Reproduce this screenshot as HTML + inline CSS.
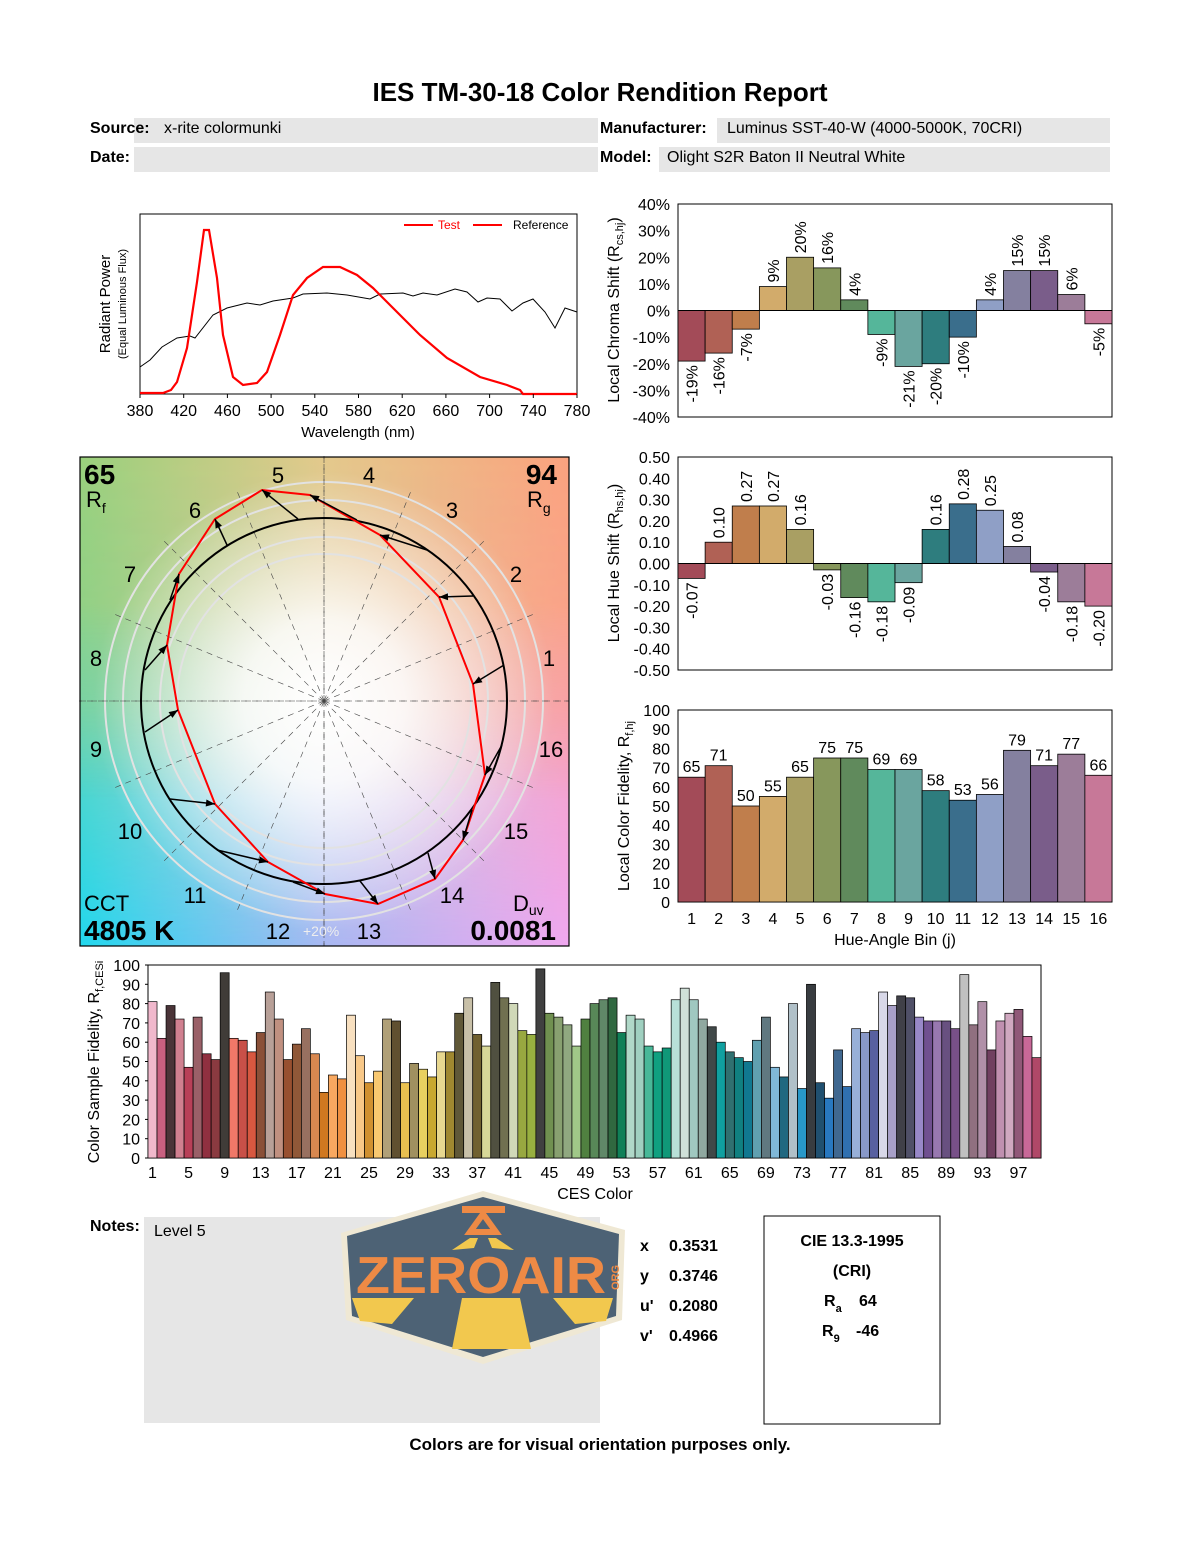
<!DOCTYPE html>
<html><head><meta charset="utf-8"><style>
html,body{margin:0;padding:0;background:#fff}
svg{display:block}
text{font-family:"Liberation Sans",sans-serif}
</style></head><body>
<svg id="s" width="1200" height="1550" viewBox="0 0 1200 1550" xmlns="http://www.w3.org/2000/svg">
<defs>
<radialGradient id="wht" cx="0.5" cy="0.5" r="0.5">
<stop offset="0" stop-color="#fff" stop-opacity="1"/><stop offset="0.35" stop-color="#fff" stop-opacity="0.85"/><stop offset="1" stop-color="#fff" stop-opacity="0"/>
</radialGradient>
<linearGradient id="gTop" x1="0" y1="0" x2="1" y2="0">
<stop offset="0" stop-color="#9ad07c"/><stop offset="0.5" stop-color="#e3c98c"/><stop offset="1" stop-color="#fba27e"/>
</linearGradient>
<linearGradient id="gBot" x1="0" y1="0" x2="1" y2="0">
<stop offset="0" stop-color="#22d8ee"/><stop offset="0.5" stop-color="#a8b8f2"/><stop offset="1" stop-color="#f0a8f0"/>
</linearGradient>
<linearGradient id="gV" x1="0" y1="0" x2="0" y2="1">
<stop offset="0" stop-color="#fff" stop-opacity="1"/><stop offset="0.3" stop-color="#fff" stop-opacity="0.9"/><stop offset="0.7" stop-color="#fff" stop-opacity="0"/>
</linearGradient>
<linearGradient id="gV2" x1="0" y1="0" x2="0" y2="1">
<stop offset="0" stop-color="#fff" stop-opacity="0"/><stop offset="0.5" stop-color="#fff" stop-opacity="0.8"/><stop offset="1" stop-color="#fff" stop-opacity="0"/>
</linearGradient>
<mask id="mTop"><rect x="80" y="457" width="489" height="489" fill="url(#gV)"/></mask>
<mask id="mMid"><rect x="80" y="457" width="489" height="489" fill="url(#gV2)"/></mask>
<linearGradient id="gMid" x1="0" y1="0" x2="1" y2="0">
<stop offset="0" stop-color="#70d4b4"/><stop offset="0.5" stop-color="#eee"/><stop offset="1" stop-color="#f8a0b8"/>
</linearGradient>
</defs>
<rect width="1200" height="1550" fill="#fff"/>
<text x="600" y="101" font-size="26" font-weight="bold" text-anchor="middle">IES TM-30-18 Color Rendition Report</text>
<rect x="134" y="118" width="464" height="25" fill="#e6e6e6"/>
<rect x="717" y="118" width="393" height="25" fill="#e6e6e6"/>
<rect x="134" y="147" width="464" height="25" fill="#e6e6e6"/>
<rect x="659" y="147" width="451" height="25" fill="#e6e6e6"/>
<text x="90" y="133" font-size="16" font-weight="bold">Source:</text>
<text x="164" y="133" font-size="16">x-rite colormunki</text>
<text x="600" y="133" font-size="16" font-weight="bold">Manufacturer:</text>
<text x="727" y="133" font-size="16">Luminus SST-40-W (4000-5000K, 70CRI)</text>
<text x="90" y="162" font-size="16" font-weight="bold">Date:</text>
<text x="600" y="162" font-size="16" font-weight="bold">Model:</text>
<text x="667" y="162" font-size="16">Olight S2R Baton II Neutral White</text>

<rect x="140" y="214" width="437" height="180" fill="none" stroke="#000" stroke-width="1"/>
<polyline fill="none" stroke="#000" stroke-width="1" points="140,367 150,360 162,347 177,338 190,336 195,338 213,315 227,308 247,303 260,305 273,301 293,298 303,294 327,293 347,295 370,299 380,294 403,293 413,296 423,293 437,295 455,289 467,292 478,302 487,298 500,299 512,311 523,303 533,299 545,312 555,328 565,308 577,312"/>
<polyline fill="none" stroke="#f00" stroke-width="2.2" points="140,393 163,393 171,390 177,382 187,348 197,282 204,230 209,230 217,278 223,335 233,377 243,385 257,383 267,372 280,335 293,295 307,278 323,267 340,267 357,275 373,288 397,312 420,335 447,358 480,377 507,385 520,390 523,394 577,394"/>
<line x1="404" y1="225" x2="433" y2="225" stroke="#f00" stroke-width="2"/>
<text x="438" y="229" font-size="12" fill="#f00">Test</text>
<line x1="473" y1="225" x2="502" y2="225" stroke="#f00" stroke-width="2"/>
<text x="513" y="229" font-size="12">Reference</text>
<g font-size="16" text-anchor="middle" id="specx"></g>
<text x="358" y="437" font-size="15" text-anchor="middle">Wavelength (nm)</text>
<text transform="translate(110,304) rotate(-90)" font-size="15" text-anchor="middle">Radiant Power</text>
<text transform="translate(126,304) rotate(-90)" font-size="11" text-anchor="middle">(Equal Luminous Flux)</text>

<rect x="80" y="457" width="489" height="489" fill="url(#gBot)"/>
<rect x="80" y="457" width="489" height="489" fill="url(#gMid)" mask="url(#mMid)"/>
<rect x="80" y="457" width="489" height="489" fill="url(#gTop)" mask="url(#mTop)"/>
<circle cx="324" cy="701" r="230" fill="url(#wht)"/>
<g id="vec"></g>
<rect x="80" y="457" width="489" height="489" fill="none" stroke="#000" stroke-width="1.2"/>

<g id="charts"></g>
</svg>
<script>
var s=document.getElementById('charts');
var out='';
var sx='';
for(var w=380;w<=780;w+=40){var x=140+(w-380)*437/400;sx+='<text x="'+x+'" y="416">'+w+'</text><line x1="'+x+'" y1="394" x2="'+x+'" y2="398" stroke="#000"/>';}
document.getElementById('specx').innerHTML=sx;

var bc=['#a34b58','#b06155','#c07e4c','#d2ab6b','#a99f63','#87975c','#608a5c','#55b69a','#6aa59f','#2e7d7e','#3a6e8c','#8f9fc6','#84809f','#7a5d8a','#9c7d99','#c77898'];
var L=678,R=1112,bw=(R-L)/16;
var cv=[-19,-16,-7,9,20,16,4,-9,-21,-20,-10,4,15,15,6,-5];
var T=204,B=417,Z=310.5,k=(B-T)/80;
out+='<rect x="'+L+'" y="'+T+'" width="'+(R-L)+'" height="'+(B-T)+'" fill="none" stroke="#000"/>';
for(var i=0;i<=8;i++){var v=40-i*10,y=T+i*10*k;out+='<text x="670" y="'+(y+6)+'" font-size="16" text-anchor="end">'+v+'%</text>';}
for(var i=0;i<16;i++){var v=cv[i],x=L+i*bw,h=Math.abs(v)*k,y=v>0?Z-h:Z;
out+='<rect x="'+x+'" y="'+y+'" width="'+bw+'" height="'+h+'" fill="'+bc[i]+'" stroke="#000" stroke-width="0.8"/>';
var cx=x+bw/2+6;
if(v>0)out+='<text transform="translate('+cx+','+(Z-h-4)+') rotate(-90)" font-size="16">'+v+'%</text>';
else out+='<text transform="translate('+cx+','+(Z+h+4)+') rotate(-90)" font-size="16" text-anchor="end">'+v+'%</text>';}
out+='<line x1="'+L+'" y1="'+Z+'" x2="'+R+'" y2="'+Z+'" stroke="#000"/>';
out+='<text transform="translate(619,310) rotate(-90)" font-size="16" text-anchor="middle">Local Chroma Shift (R<tspan font-size="11" dy="4">cs,hj</tspan><tspan dy="-4">)</tspan></text>';
var hv=[-0.07,0.10,0.27,0.27,0.16,-0.03,-0.16,-0.18,-0.09,0.16,0.28,0.25,0.08,-0.04,-0.18,-0.20];
T=457;B=670;Z=563.5;k=(B-T)/1.0;
out+='<rect x="'+L+'" y="'+T+'" width="'+(R-L)+'" height="'+(B-T)+'" fill="none" stroke="#000"/>';
for(var i=0;i<=10;i++){var v=0.5-i*0.1,y=T+i*0.1*k;out+='<text x="670" y="'+(y+6)+'" font-size="16" text-anchor="end">'+(Math.abs(v)<1e-9?'0.00':v.toFixed(2))+'</text>';}
for(var i=0;i<16;i++){var v=hv[i],x=L+i*bw,h=Math.abs(v)*k,y=v>0?Z-h:Z;
out+='<rect x="'+x+'" y="'+y+'" width="'+bw+'" height="'+h+'" fill="'+bc[i]+'" stroke="#000" stroke-width="0.8"/>';
var cx=x+bw/2+6;
if(v>0)out+='<text transform="translate('+cx+','+(Z-h-4)+') rotate(-90)" font-size="16">'+v.toFixed(2)+'</text>';
else out+='<text transform="translate('+cx+','+(Z+h+4)+') rotate(-90)" font-size="16" text-anchor="end">'+v.toFixed(2)+'</text>';}
out+='<line x1="'+L+'" y1="'+Z+'" x2="'+R+'" y2="'+Z+'" stroke="#000"/>';
out+='<text transform="translate(619,563) rotate(-90)" font-size="16" text-anchor="middle">Local Hue Shift (R<tspan font-size="11" dy="4">hs,hj</tspan><tspan dy="-4">)</tspan></text>';
var fv=[65,71,50,55,65,75,75,69,69,58,53,56,79,71,77,66];
T=710;B=902;k=(B-T)/100;
out+='<rect x="'+L+'" y="'+T+'" width="'+(R-L)+'" height="'+(B-T)+'" fill="none" stroke="#000"/>';
for(var i=0;i<=10;i++){var v=100-i*10,y=T+i*10*k;out+='<text x="670" y="'+(y+6)+'" font-size="16" text-anchor="end">'+v+'</text>';}
for(var i=0;i<16;i++){var v=fv[i],x=L+i*bw,h=v*k;
out+='<rect x="'+x+'" y="'+(B-h)+'" width="'+bw+'" height="'+h+'" fill="'+bc[i]+'" stroke="#000" stroke-width="0.8"/>';
out+='<text x="'+(x+bw/2)+'" y="'+(B-h-5)+'" font-size="16" text-anchor="middle">'+v+'</text>';
out+='<text x="'+(x+bw/2)+'" y="924" font-size="16" text-anchor="middle">'+(i+1)+'</text>';}
out+='<text x="895" y="945" font-size="16" text-anchor="middle">Hue-Angle Bin (j)</text>';
out+='<text transform="translate(629,806) rotate(-90)" font-size="16" text-anchor="middle">Local Color Fidelity, R<tspan font-size="11" dy="4">f,hj</tspan></text>';
var ces=[[81,'#f0b8cc'],[62,'#c86080'],[79,'#4a3438'],[72,'#d08090'],[47,'#b84058'],[73,'#9a6068'],[54,'#903040'],[51,'#8a3a40'],[96,'#403c38'],[62,'#f07868'],[61,'#c85048'],[55,'#d85840'],[65,'#8a5038'],[86,'#b8a098'],[72,'#c09080'],[51,'#985030'],[59,'#905838'],[67,'#987060'],[54,'#d88850'],[34,'#d07820'],[43,'#f8a860'],[41,'#f09040'],[74,'#f8e0c0'],[53,'#f8c888'],[39,'#d09030'],[45,'#f8c870'],[72,'#b0a078'],[71,'#605030'],[39,'#e8c050'],[49,'#a09060'],[46,'#e8d060'],[42,'#c8a830'],[55,'#e8d890'],[55,'#a08830'],[75,'#605838'],[83,'#c8c0a8'],[64,'#706030'],[58,'#d8d898'],[91,'#505040'],[83,'#707050'],[80,'#d0d8b8'],[66,'#98a840'],[64,'#98b040'],[98,'#404040'],[75,'#709050'],[73,'#88a070'],[69,'#90a880'],[58,'#a0c888'],[72,'#508040'],[80,'#588858'],[82,'#608868'],[83,'#306840'],[65,'#108058'],[74,'#b0d8c8'],[72,'#a0d0c0'],[58,'#48b898'],[55,'#10a080'],[57,'#109878'],[82,'#b8e0d8'],[88,'#d0e0d8'],[82,'#a0c8c0'],[72,'#90a8a0'],[68,'#404848'],[60,'#10a0a0'],[55,'#307070'],[52,'#108080'],[50,'#107890'],[61,'#60a0b0'],[73,'#607880'],[47,'#80b8d8'],[42,'#206880'],[80,'#b0c0c8'],[36,'#2898c8'],[90,'#383c40'],[39,'#205070'],[31,'#2878c0'],[56,'#406890'],[37,'#3070b0'],[67,'#98b0d8'],[65,'#8898c8'],[66,'#5860a0'],[86,'#d8d8e8'],[79,'#a8a0c8'],[84,'#404048'],[83,'#505068'],[73,'#9888c8'],[71,'#705090'],[71,'#9878b0'],[71,'#685080'],[67,'#785088'],[95,'#c0c0c0'],[69,'#907080'],[81,'#b090a8'],[56,'#704060'],[71,'#c090b0'],[75,'#d0a8c0'],[77,'#905878'],[63,'#c86898'],[52,'#b04868']];
var CL=148,CR=1041,CT=965,CB=1158,cw=(CR-CL)/99,ck=(CB-CT)/100;
out+='<rect x="'+CL+'" y="'+CT+'" width="'+(CR-CL)+'" height="'+(CB-CT)+'" fill="none" stroke="#000"/>';
for(var i=0;i<=10;i++){var v=100-i*10,y=CT+i*10*ck;out+='<text x="140" y="'+(y+6)+'" font-size="16" text-anchor="end">'+v+'</text><line x1="'+(CL-3)+'" y1="'+y+'" x2="'+CL+'" y2="'+y+'" stroke="#000"/>';}
for(var i=0;i<99;i++){var v=ces[i][0],x=CL+i*cw,h=v*ck;
out+='<rect x="'+x+'" y="'+(CB-h)+'" width="'+cw+'" height="'+h+'" fill="'+ces[i][1]+'" stroke="#000" stroke-width="0.7"/>';
if(i%4==0)out+='<text x="'+(x+cw/2)+'" y="1178" font-size="16" text-anchor="middle">'+(i+1)+'</text>';}
out+='<text x="595" y="1199" font-size="16" text-anchor="middle">CES Color</text>';
out+='<text transform="translate(99,1062) rotate(-90)" font-size="16" text-anchor="middle">Color Sample Fidelity, R<tspan font-size="11" dy="4">f,CESi</tspan></text>';
out+='<text x="90" y="1231" font-size="16" font-weight="bold">Notes:</text>';
out+='<rect x="144" y="1217" width="456" height="206" fill="#e6e6e6"/>';
out+='<text x="154" y="1236" font-size="16">Level 5</text>';
out+='<polygon points="483,1191 625,1230 622,1320 483,1364 346,1320 341,1233" fill="#efe8d4"/>';
out+='<polygon points="483,1197 619,1234 616,1316 483,1357 352,1316 347,1236" fill="#4d6275"/>';
out+='<polygon points="462,1298 520,1298 531,1349 452,1349" fill="#f2c84e"/>';
out+='<polygon points="352,1298 414,1298 392,1324 360,1321" fill="#f2c84e"/>';
out+='<polygon points="553,1298 613,1298 606,1321 575,1324" fill="#f2c84e"/>';
out+='<rect x="462" y="1206" width="43" height="7" fill="#ee8a45"/><polygon points="470,1232 483,1214 496,1232" fill="none" stroke="#ee8a45" stroke-width="6"/>';
out+='<polygon points="470,1238 478,1238 474,1248 452,1250" fill="#f2c84e"/><polygon points="488,1238 496,1238 514,1250 492,1248" fill="#f2c84e"/>';
out+='<text x="356" y="1293" font-size="52" font-weight="bold" fill="#ee8a45" textLength="250" lengthAdjust="spacingAndGlyphs">ZEROAIR</text>';
out+='<text transform="translate(619,1290) rotate(-90)" font-size="11" font-weight="bold" fill="#ee8a45">ORG</text>';
var lab=[['x','0.3531',1251],['y','0.3746',1281],["u'",'0.2080',1311],["v'",'0.4966',1341]];
for(var i=0;i<4;i++){out+='<text x="640" y="'+lab[i][2]+'" font-size="16" font-weight="bold">'+lab[i][0]+'</text><text x="669" y="'+lab[i][2]+'" font-size="16" font-weight="bold">'+lab[i][1]+'</text>';}
out+='<rect x="764" y="1216" width="176" height="208" fill="none" stroke="#000"/>';
out+='<text x="852" y="1246" font-size="16" font-weight="bold" text-anchor="middle">CIE 13.3-1995</text>';
out+='<text x="852" y="1276" font-size="16" font-weight="bold" text-anchor="middle">(CRI)</text>';
out+='<text x="824" y="1306" font-size="16" font-weight="bold">R<tspan font-size="11" dy="6">a</tspan></text><text x="859" y="1306" font-size="16" font-weight="bold">64</text>';
out+='<text x="822" y="1336" font-size="16" font-weight="bold">R<tspan font-size="11" dy="6">9</tspan></text><text x="856" y="1336" font-size="16" font-weight="bold">-46</text>';
out+='<text x="600" y="1450" font-size="17" font-weight="bold" text-anchor="middle">Colors are for visual orientation purposes only.</text>';
s.innerHTML=out;

var v='',cx0=324,cy0=701;
[219,201,164,147].forEach(function(r){v+='<circle cx="324" cy="701" r="'+r+'" fill="none" stroke="#e2e2e2" stroke-width="2"/>';});
for(var i=0;i<16;i++){var a=i*22.5*Math.PI/180,r=i%4==0?245:230;
v+='<line x1="'+cx0+'" y1="'+cy0+'" x2="'+(cx0+r*Math.cos(a))+'" y2="'+(cy0-r*Math.sin(a))+'" stroke="#444" stroke-width="0.6" stroke-dasharray="6,5"/>';}
v+='<line x1="80" y1="701" x2="569" y2="701" stroke="#444" stroke-width="0.6" stroke-dasharray="6,5"/><line x1="324" y1="457" x2="324" y2="946" stroke="#444" stroke-width="0.6" stroke-dasharray="6,5"/>';
v+='<circle cx="324" cy="701" r="183" fill="none" stroke="#000" stroke-width="2"/>';
var tp=[[473,684],[439,597],[380,535],[310,495],[262,490],[215,519],[179,574],[167,645],[178,710],[215,804],[268,862],[325,894],[378,904],[435,879],[463,840],[485,775]];
var tl=[[504,665],[473,596],[427,550],[357,520],[298,519],[227,545],[170,600],[145,670],[145,732],[170,799],[217,850],[293,882],[360,881],[428,853],[472,810],[502,745]];
v+='<polygon points="'+tp.map(function(p){return p.join(',')}).join(' ')+'" fill="none" stroke="#f00" stroke-width="2"/>';
for(var i=0;i<16;i++){var x1=tl[i][0],y1=tl[i][1],x2=tp[i][0],y2=tp[i][1],dx=x2-x1,dy=y2-y1,d=Math.sqrt(dx*dx+dy*dy),ux=dx/d,uy=dy/d;
v+='<line x1="'+x1+'" y1="'+y1+'" x2="'+x2+'" y2="'+y2+'" stroke="#000" stroke-width="1.5"/>';
var bx=x2-ux*9,by=y2-uy*9;v+='<polygon points="'+x2+','+y2+' '+(bx-uy*3.5)+','+(by+ux*3.5)+' '+(bx+uy*3.5)+','+(by-ux*3.5)+'" fill="#000"/>';}
var nl=[[549,666],[516,582],[452,518],[369,483],[278,483],[195,518],[130,582],[96,666],[96,757],[130,839],[195,903],[278,939],[369,939],[452,903],[516,839],[551,757]];
for(var i=0;i<16;i++)v+='<text x="'+nl[i][0]+'" y="'+nl[i][1]+'" font-size="22" text-anchor="middle">'+(i+1)+'</text>';
v+='<text x="303" y="936" font-size="14" fill="#eee">+20%</text>';
v+='<text x="84" y="484" font-size="28" font-weight="bold">65</text><text x="86" y="507" font-size="22">R<tspan font-size="14" dy="6">f</tspan></text>';
v+='<text x="557" y="484" font-size="28" font-weight="bold" text-anchor="end">94</text><text x="527" y="507" font-size="22">R<tspan font-size="14" dy="6">g</tspan></text>';
v+='<text x="84" y="911" font-size="22">CCT</text><text x="84" y="940" font-size="28" font-weight="bold">4805 K</text>';
v+='<text x="513" y="911" font-size="22">D<tspan font-size="14" dy="4">uv</tspan></text><text x="556" y="940" font-size="28" font-weight="bold" text-anchor="end">0.0081</text>';
document.getElementById('vec').innerHTML=v;
</script>
</body></html>
